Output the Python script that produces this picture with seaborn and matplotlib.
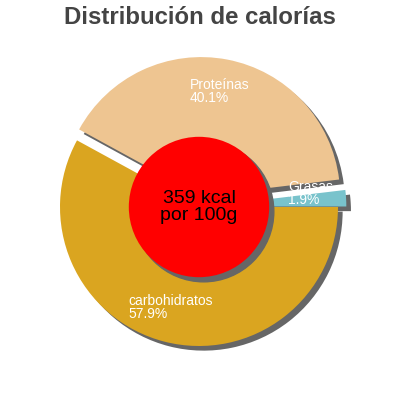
import matplotlib
matplotlib.use("Agg")
import matplotlib.pyplot as plt
import matplotlib.patches as mpatches
import seaborn as sns

# Data
labels = ["carbohidratos", "Proteínas", "Grasas"]
shares = [57.9, 40.1, 1.9]
colors = ["#daa520", "#eec591", "#79c3cc"]
explode = [0.0, 0.08, 0.06]
total_kcal = 359

sns.set_theme(style="white")
plt.rcParams['font.family'] = ['Liberation Sans', 'DejaVu Sans']

fig = plt.figure(figsize=(4, 4), dpi=100)
ax = fig.add_axes([0, 0, 1, 1])
scale = 139.0

shadow = {'ox': 0.024, 'oy': -0.024, 'facecolor': '#666666',
          'edgecolor': '#666666', 'alpha': 1.0}
wedges, _ = ax.pie(shares, colors=colors, explode=explode, startangle=0,
                   counterclock=False, shadow=shadow, radius=1.0,
                   wedgeprops={'linewidth': 0})
ax.set_xlim(-199 / scale, 201 / scale)
ax.set_ylim(-193 / scale, 207 / scale)
ax.set_aspect('auto')
ax.axis('off')

# label text inside each wedge
label_pos = [(-0.51, -0.72), (-0.065, 0.83), (0.64, 0.10)]
for lab, val, (lx, ly) in zip(labels, shares, label_pos):
    ax.text(lx, ly, f"{lab}\n{val:.1f}%", color='white', fontsize=10,
            ha='left', va='center', linespacing=0.92, zorder=5)

# red centre
circ = mpatches.Circle((0, 0), 0.505, facecolor='#ff0000', edgecolor='none', zorder=3)
ax.add_patch(circ)
sh = mpatches.Shadow(circ, 0.024, -0.024, facecolor='#666666', edgecolor='#666666', alpha=1.0)
sh.set_zorder(2.9)
ax.add_patch(sh)
ax.text(0, 0, f"{total_kcal} kcal\npor 100g", ha='center', va='center',
        fontsize=14, color='black', linespacing=0.95, zorder=6)

fig.text(0.5, 0.955, "Distribución de calorías", ha='center', va='center',
         fontsize=17.3, fontweight='bold', color='#444444')

fig.savefig("out.png", dpi=100)
